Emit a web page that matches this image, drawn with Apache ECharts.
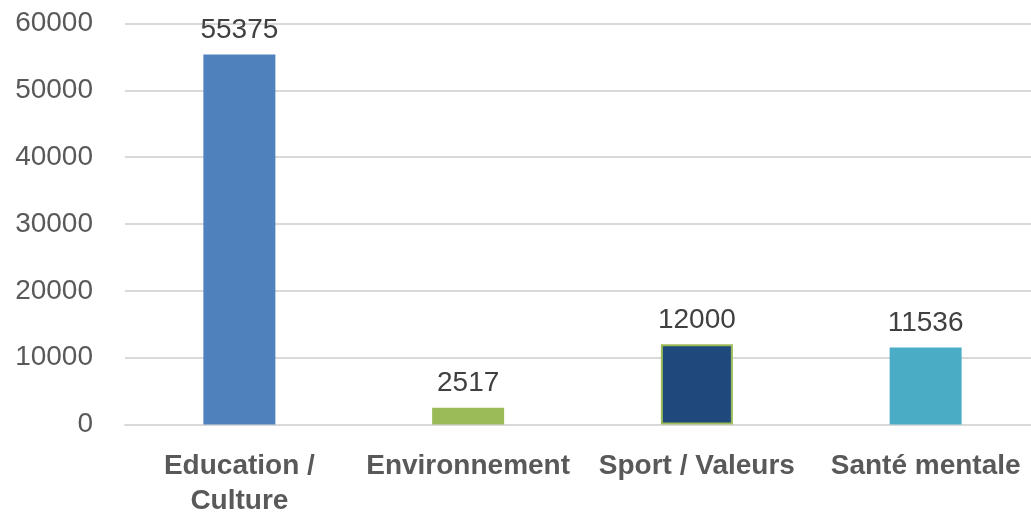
<!DOCTYPE html>
<html>
<head>
<meta charset="utf-8">
<script src="https://cdn.jsdelivr.net/npm/echarts@6/dist/echarts.min.js"></script>
<style>
  html, body { margin: 0; padding: 0; background: #fff; }
  #chart { width: 1031px; height: 517px; }
</style>
</head>
<body>
<div id="chart"></div>
<script>
const categories = ['Education /\nCulture', 'Environnement', 'Sport / Valeurs', 'Santé mentale']
const values = [55375, 2517, 12000, 11536]
const barColors = ['#4F81BD', '#9BBB59', '#1F497D', '#4BACC6']
const yTicks = [0, 10000, 20000, 30000, 40000, 50000, 60000]

const chart = echarts.init(document.getElementById('chart'))

const option = {
  animation: false,
  grid: {
    left: 125,
    width: 915,
    top: 23.5,
    bottom: 92.5,
    outerBoundsMode: 'none',
    containLabel: false
  },
  xAxis: {
    type: 'category',
    data: categories,
    axisTick: { show: false },
    axisLine: { lineStyle: { color: '#D9D9D9', width: 2 } },
    axisLabel: {
      color: '#595959',
      fontFamily: 'Liberation Sans',
      fontWeight: 'bold',
      fontSize: 28,
      lineHeight: 35,
      margin: 24,
      interval: 0
    }
  },
  yAxis: {
    type: 'value',
    min: yTicks[0],
    max: yTicks[yTicks.length - 1],
    interval: 10000,
    axisLine: { show: false },
    axisTick: { show: false },
    splitLine: { lineStyle: { color: '#D9D9D9', width: 2 } },
    axisLabel: {
      color: '#595959',
      fontFamily: 'Liberation Sans',
      fontSize: 28,
      margin: 32,
      formatter: (v) => String(v)
    }
  },
  series: [
    {
      type: 'bar',
      barWidth: 72,
      data: values.map((v, i) => ({
        value: v,
        itemStyle: i === 2
          ? { color: barColors[i], borderColor: '#9BBB59', borderWidth: 2 }
          : { color: barColors[i] }
      })),
      label: {
        show: true,
        position: 'top',
        distance: 10,
        color: '#404040',
        fontFamily: 'Liberation Sans',
        fontSize: 28
      }
    }
  ]
}

chart.setOption(option)
</script>
</body>
</html>
